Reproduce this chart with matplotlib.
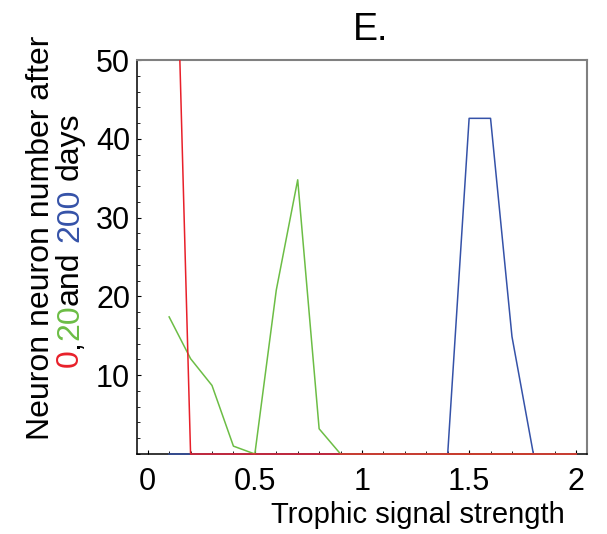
import matplotlib
matplotlib.use("Agg")
import matplotlib.pyplot as plt
from matplotlib.patches import Rectangle
from matplotlib.ticker import MultipleLocator, FixedLocator
from matplotlib.font_manager import FontProperties

# дані
signal = [0.1, 0.2, 0.3, 0.4, 0.5, 0.6, 0.7, 0.8, 0.9, 1.0,
          1.1, 1.2, 1.3, 1.4, 1.5, 1.6, 1.7, 1.8, 1.9, 2.0]
day0 = [100, 0, 0, 0, 0, 0, 0, 0, 0, 0,
        0, 0, 0, 0, 0, 0, 0, 0, 0, 0]
day20 = [17.4, 12.1, 8.7, 1.0, 0, 20.8, 34.8, 3.2, 0, 0,
         0, 0, 0, 0, 0, 0, 0, 0, 0, 0]
day200 = [0, 0, 0, 0, 0, 0, 0, 0, 0, 0,
          0, 0, 0, 0, 42.6, 42.6, 14.9, 0, 0, 0]

xticks = [0, 0.5, 1, 1.5, 2]
xtick_labels = ['0', '0.5', '1', '1.5', '2']
yticks = [10, 20, 30, 40, 50]

RED = '#e8202a'
GREEN = '#6cbd45'
BLUE = '#3552a8'

plt.rcParams['font.family'] = ['Liberation Sans', 'DejaVu Sans']

fig = plt.figure(figsize=(6.07, 5.34), dpi=100)
ax = fig.add_axes([0.2257, 0.1498, 0.967 - 0.2257, 0.8876 - 0.1498])

# лінії малюються поверх нижньої осі, обрізаються лише зверху
clip = Rectangle((0, -0.02), 1, 1.02, transform=ax.transAxes, fill=False)
for vals, col in [(day200, BLUE), (day20, GREEN), (day0, RED)]:
    line, = ax.plot(signal, vals, color=col, lw=1.1, zorder=3)
    line.set_clip_path(clip)

ax.set_xlim(-0.05, 2.05)
ax.set_ylim(0, 50)
ax.xaxis.set_major_locator(FixedLocator(xticks))
ax.set_xticklabels(xtick_labels)
ax.xaxis.set_minor_locator(MultipleLocator(0.1))
ax.yaxis.set_major_locator(FixedLocator(yticks))
ax.yaxis.set_minor_locator(MultipleLocator(2))

ax.tick_params(which='both', direction='in', top=False, right=False,
               labelsize=22, colors='black')
ax.tick_params(axis='x', which='major', length=3, width=0.8, pad=9)
ax.tick_params(axis='y', which='major', length=3, width=0.8, pad=5)
ax.tick_params(which='minor', length=2, width=0.6)

for side in ['left', 'bottom']:
    ax.spines[side].set_color('black')
    ax.spines[side].set_linewidth(1.1)
for side in ['top', 'right']:
    ax.spines[side].set_color('#808080')
    ax.spines[side].set_linewidth(1.5)

fig.text(371 / 607, 1 - 30 / 534, 'E.', fontsize=27, ha='center', va='center')
fig.text(565 / 607, 1 - 523 / 534, 'Trophic signal strength', fontsize=21,
         ha='right', va='baseline')

# підпис осі y у два рядки, другий рядок різнокольоровий
fp = FontProperties(family=['Liberation Sans', 'DejaVu Sans'], size=23)
renderer = fig.canvas.get_renderer()


def text_w(s):
    w, h, d = renderer.get_text_width_height_descent(s, fp, ismath=False)
    return w


fig.text(49 / 607, 1 - 440 / 534, 'Neuron neuron number after', fontproperties=fp,
         rotation=90, rotation_mode='anchor', ha='left', va='baseline')

full = '0,20and 200 days'
pieces = [('0', RED), (',', 'black'), ('20', GREEN), ('and', 'black'),
          ('200', BLUE), ('days', 'black')]
x0 = 78 / 607
y0_px = 534 - 367
pos = 0
for s, c in pieces:
    i = full.index(s, pos)
    pos = i + len(s)
    off = text_w(full[:pos]) - text_w(s)
    fig.text(x0, (y0_px + off) / 534, s, fontproperties=fp, color=c,
             rotation=90, rotation_mode='anchor', ha='left', va='baseline')

fig.savefig('out.png', dpi=100)
